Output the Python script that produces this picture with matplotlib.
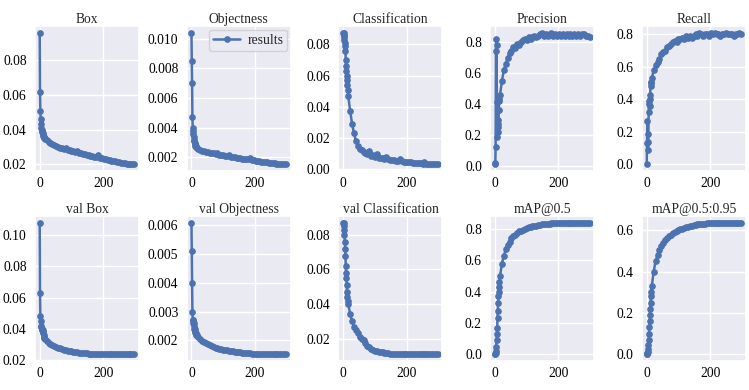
import matplotlib
matplotlib.use("Agg")
import matplotlib.pyplot as plt
import seaborn as sns

# epochs sampled: every epoch at start, then every 6
epochs = list(range(0, 15)) + list(range(16, 300, 6))

box = [0.096, 0.062, 0.051, 0.046, 0.043, 0.041, 0.040, 0.039, 0.0385, 0.038, 0.037, 0.0365, 0.036, 0.0355, 0.035,
       0.0348, 0.0338, 0.0330, 0.0322, 0.0316, 0.0310, 0.0305, 0.0300, 0.0297, 0.0292, 0.0290, 0.0294, 0.0284, 0.0281,
       0.0278, 0.0275, 0.0272, 0.0276, 0.0267, 0.0264, 0.0262, 0.0259, 0.0256, 0.0253, 0.0250, 0.0247, 0.0244, 0.0241,
       0.0252, 0.0238, 0.0235, 0.0232, 0.0229, 0.0226, 0.0224, 0.0222, 0.0219, 0.0217, 0.0214, 0.0212, 0.0210, 0.0208,
       0.0206, 0.0204, 0.0203, 0.0201, 0.0200, 0.0199]
objectness = [0.0104, 0.0085, 0.0070, 0.0047, 0.0040, 0.0038, 0.0036, 0.0034, 0.0032, 0.0031, 0.0030, 0.0029, 0.0028, 0.0028, 0.0027,
              0.00265, 0.00255, 0.00250, 0.00245, 0.00242, 0.00238, 0.00235, 0.00232, 0.00229, 0.00227, 0.00224, 0.00228,
              0.00219, 0.00216, 0.00214, 0.00212, 0.00209, 0.00213, 0.00205, 0.00203, 0.00201, 0.00199, 0.00196, 0.00194,
              0.00192, 0.00190, 0.00188, 0.00186, 0.00195, 0.00182, 0.00180, 0.00178, 0.00176, 0.00174, 0.00172, 0.00170,
              0.00168, 0.00166, 0.00165, 0.00163, 0.00161, 0.00159, 0.00158, 0.00156, 0.00155, 0.00154, 0.00153, 0.00152]
classification = [0.0875, 0.087, 0.086, 0.085, 0.083, 0.081, 0.079, 0.076, 0.070, 0.066, 0.063, 0.060, 0.057, 0.054, 0.051,
                  0.047, 0.037, 0.029, 0.023, 0.018, 0.015, 0.013, 0.012, 0.011, 0.0105, 0.0095, 0.0115, 0.0085, 0.0088,
                  0.0080, 0.0098, 0.0072, 0.0070, 0.0068, 0.0066, 0.0075, 0.0062, 0.0060, 0.0058, 0.0055, 0.0054, 0.0052,
                  0.0062, 0.0049, 0.0047, 0.0046, 0.0044, 0.0043, 0.0048, 0.0040, 0.0039, 0.0038, 0.0037, 0.0036, 0.0035,
                  0.0042, 0.0033, 0.0032, 0.0031, 0.0031, 0.0030, 0.0030, 0.0029]
precision = [0.02, 0.01, 0.12, 0.74, 0.82, 0.78, 0.41, 0.19, 0.22, 0.25, 0.30, 0.27, 0.36, 0.42, 0.43,
             0.46, 0.55, 0.62, 0.66, 0.70, 0.73, 0.74, 0.77, 0.76, 0.79, 0.78, 0.80, 0.81, 0.82, 0.81, 0.83,
             0.82, 0.83, 0.84, 0.83, 0.84, 0.85, 0.86, 0.84, 0.85, 0.84, 0.85, 0.86, 0.84, 0.85, 0.84, 0.85,
             0.84, 0.85, 0.84, 0.85, 0.84, 0.85, 0.84, 0.85, 0.84, 0.85, 0.84, 0.85, 0.85, 0.84, 0.84, 0.83]
recall = [0.0, 0.13, 0.27, 0.19, 0.09, 0.14, 0.32, 0.37, 0.39, 0.36, 0.40, 0.43, 0.48, 0.50, 0.51,
          0.53, 0.58, 0.61, 0.63, 0.65, 0.68, 0.69, 0.70, 0.72, 0.73, 0.74, 0.75, 0.76, 0.75, 0.77, 0.77,
          0.78, 0.77, 0.79, 0.78, 0.79, 0.78, 0.79, 0.80, 0.79, 0.81, 0.80, 0.79, 0.80, 0.80, 0.79, 0.81,
          0.80, 0.81, 0.80, 0.80, 0.79, 0.80, 0.80, 0.81, 0.80, 0.80, 0.80, 0.79, 0.80, 0.80, 0.81, 0.80]
val_box = [0.108, 0.063, 0.048, 0.045, 0.042, 0.041, 0.040, 0.040, 0.039, 0.039, 0.038, 0.037, 0.036, 0.035, 0.034,
           0.0335, 0.0322, 0.0312, 0.0303, 0.0296, 0.0290, 0.0284, 0.0279, 0.0274, 0.0270, 0.0266, 0.0263, 0.0260,
           0.0258, 0.0255, 0.0253, 0.0251, 0.0249, 0.0247, 0.0246, 0.0245, 0.0243, 0.0242, 0.0241, 0.0240, 0.0239,
           0.0238, 0.0238, 0.0237, 0.0237, 0.0236, 0.0236, 0.0236, 0.0236, 0.0236, 0.0236, 0.0236, 0.0236, 0.0236,
           0.0236, 0.0237, 0.0237, 0.0237, 0.0237, 0.0237, 0.0237, 0.0237, 0.0237]
val_objectness = [0.0061, 0.0051, 0.0040, 0.0030, 0.0027, 0.0026, 0.0027, 0.0026, 0.0025, 0.0024, 0.0024, 0.0023, 0.0023, 0.00225, 0.0022,
                  0.00218, 0.00210, 0.00204, 0.00198, 0.00193, 0.00190, 0.00186, 0.00183, 0.00180, 0.00177, 0.00175,
                  0.00173, 0.00171, 0.00169, 0.00168, 0.00166, 0.00165, 0.00164, 0.00163, 0.00162, 0.00161, 0.00160,
                  0.00159, 0.00158, 0.00157, 0.00157, 0.00156, 0.00155, 0.00155, 0.00154, 0.00154, 0.00153, 0.00153,
                  0.00152, 0.00152, 0.00152, 0.00152, 0.00152, 0.00152, 0.00151, 0.00151, 0.00151, 0.00151, 0.00151,
                  0.00151, 0.00151, 0.00151, 0.00151]
val_classification = [0.087, 0.0865, 0.085, 0.083, 0.080, 0.076, 0.072, 0.068, 0.062, 0.058, 0.055, 0.051, 0.047, 0.044, 0.042,
                      0.040, 0.034, 0.030, 0.027, 0.025, 0.023, 0.021, 0.020, 0.019, 0.0175, 0.016, 0.015, 0.014, 0.0135,
                      0.013, 0.0127, 0.0124, 0.0121, 0.0120, 0.0118, 0.0116, 0.0115, 0.0114, 0.0113, 0.0112, 0.0111,
                      0.0110, 0.0110, 0.0110, 0.0110, 0.0110, 0.0110, 0.0110, 0.0110, 0.0109, 0.0109, 0.0109, 0.0109,
                      0.0109, 0.0109, 0.0109, 0.0109, 0.0109, 0.0109, 0.0109, 0.0109, 0.0109, 0.0109]
map50 = [0.0, 0.003, 0.008, 0.02, 0.05, 0.09, 0.13, 0.17, 0.23, 0.28, 0.33, 0.37, 0.40, 0.43, 0.46,
         0.50, 0.58, 0.63, 0.67, 0.70, 0.72, 0.74, 0.755, 0.765, 0.775, 0.785, 0.79, 0.795, 0.80, 0.805, 0.81,
         0.815, 0.818, 0.82, 0.822, 0.825, 0.827, 0.829, 0.831, 0.833, 0.834, 0.835, 0.836, 0.837, 0.838, 0.839,
         0.840, 0.840, 0.840, 0.841, 0.841, 0.841, 0.841, 0.841, 0.841, 0.841, 0.841, 0.841, 0.841, 0.840, 0.840,
         0.840, 0.840]
map5095 = [0.0, 0.002, 0.005, 0.01, 0.025, 0.045, 0.07, 0.10, 0.13, 0.16, 0.19, 0.22, 0.25, 0.28, 0.30,
           0.33, 0.40, 0.45, 0.48, 0.505, 0.525, 0.54, 0.55, 0.56, 0.57, 0.577, 0.585, 0.59, 0.595, 0.60, 0.604,
           0.607, 0.61, 0.613, 0.616, 0.619, 0.621, 0.623, 0.625, 0.627, 0.628, 0.629, 0.630, 0.631, 0.632, 0.633,
           0.634, 0.634, 0.635, 0.635, 0.635, 0.636, 0.636, 0.636, 0.636, 0.636, 0.636, 0.636, 0.636, 0.636, 0.635,
           0.635, 0.635]

titles = ["Box", "Objectness", "Classification", "Precision", "Recall",
          "val Box", "val Objectness", "val Classification", "mAP@0.5", "mAP@0.5:0.95"]
series = [box, objectness, classification, precision, recall,
          val_box, val_objectness, val_classification, map50, map5095]
yticks = [[0.02, 0.04, 0.06, 0.08],
          [0.002, 0.004, 0.006, 0.008, 0.010],
          [0.00, 0.02, 0.04, 0.06, 0.08],
          [0.0, 0.2, 0.4, 0.6, 0.8],
          [0.0, 0.2, 0.4, 0.6, 0.8],
          [0.02, 0.04, 0.06, 0.08, 0.10],
          [0.002, 0.003, 0.004, 0.005, 0.006],
          [0.02, 0.04, 0.06, 0.08],
          [0.0, 0.2, 0.4, 0.6, 0.8],
          [0.0, 0.2, 0.4, 0.6]]

sns.set_theme(style="darkgrid")
plt.rcParams["font.family"] = ["Liberation Serif", "DejaVu Serif"]

fig, axes = plt.subplots(2, 5, figsize=(7.49, 3.90), dpi=100)
fig.subplots_adjust(left=0.0467, right=0.996, top=0.933, bottom=0.0744, wspace=0.459, hspace=0.31)
axes = axes.ravel()

for i, ax in enumerate(axes):
    ax.plot(epochs, series[i], marker="o", markersize=3.8, linewidth=1.8,
            color="#4C72B0", label="results")
    ax.set_title(titles[i], fontsize=9.8, pad=2.5)
    ax.set_xticks([0, 200])
    ax.set_yticks(yticks[i])
    ax.tick_params(axis="both", length=0, labelsize=9.8, colors="black")
    ax.tick_params(axis="x", pad=4)
    ax.tick_params(axis="y", pad=6)

axes[1].legend(loc="upper right", fontsize=9.8, borderpad=0.3, handlelength=2.0,
               handletextpad=0.5, borderaxespad=0.25)

fig.savefig("out.png", dpi=100)
